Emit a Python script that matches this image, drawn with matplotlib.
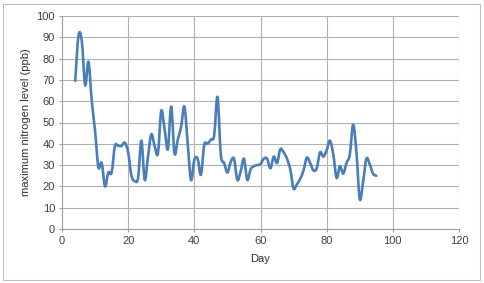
import matplotlib
matplotlib.use("Agg")
import matplotlib.pyplot as plt
from matplotlib.path import Path
from matplotlib.patches import PathPatch, Rectangle
import numpy as np

plt.rcParams['font.family'] = ['Liberation Sans', 'DejaVu Sans']

# data
days = list(range(4, 96))
nitrogen = [69.5, 91, 88, 67.5, 78.5, 60, 46, 29, 31, 20, 26.5, 26.5, 39, 39, 39, 40.5,
            36, 25, 22.5, 24, 41.5, 23, 34, 44.5, 39, 35.5, 55.5, 47, 37.5, 57.5,
            35.5, 42, 48, 57.5, 40, 23, 32.5, 33, 25.5, 39.5, 40, 42, 44, 62, 35,
            31, 26.5, 31.5, 33, 23, 27, 33, 23, 28, 29.5, 30, 30.5, 33, 33, 28.5,
            34, 31, 37.5, 36, 33, 28, 19, 21, 23.5, 27.5, 33.5, 31, 27.5, 28.5,
            36, 34, 37, 41.5, 35, 24, 29.5, 26, 31, 35, 49, 36, 14, 22, 33, 30.5,
            26, 25]

x_ticks = [0, 20, 40, 60, 80, 100, 120]
y_ticks = [0, 10, 20, 30, 40, 50, 60, 70, 80, 90, 100]


def smooth_path(xs, ys, t=1 / 6):
    # bezier segments through the points, like a spreadsheet "smoothed line"
    pts = np.column_stack([xs, ys]).astype(float)
    verts = [pts[0]]
    codes = [Path.MOVETO]
    n = len(pts)
    for i in range(n - 1):
        p0 = pts[i - 1] if i > 0 else pts[i]
        p1 = pts[i]
        p2 = pts[i + 1]
        p3 = pts[i + 2] if i + 2 < n else pts[i + 1]
        c1 = p1 + (p2 - p0) * t
        c2 = p2 - (p3 - p1) * t
        verts += [c1, c2, p2]
        codes += [Path.CURVE4] * 3
    return Path(verts, codes)


fig = plt.figure(figsize=(4.84, 2.83), dpi=100)
ax = fig.add_axes([62 / 484, 1 - 229 / 283, (459 - 62) / 484, (229 - 16) / 283])

ax.add_patch(PathPatch(smooth_path(days, nitrogen), facecolor='none',
                       edgecolor='#4A7EBB', lw=1.9, capstyle='round',
                       joinstyle='round', zorder=3))

ax.set_xlim(0, 120)
ax.set_ylim(0, 100)
ax.set_xticks(x_ticks)
ax.set_yticks(y_ticks)
ax.grid(True, color='#B0B0B0', lw=0.8)
ax.set_axisbelow(True)
for s in ['top', 'right']:
    ax.spines[s].set_visible(False)
for s in ['left', 'bottom']:
    ax.spines[s].set_color('#A0A0A0')
    ax.spines[s].set_linewidth(0.8)
ax.tick_params(labelsize=8, colors='#404040', length=2, width=0.8,
               color='#A0A0A0', direction='out', pad=3)
ax.set_xlabel('Day', fontsize=8, color='#303030', labelpad=6)
ax.set_ylabel('maximum nitrogen level (ppb)', fontsize=8, color='#303030', labelpad=4)

# chart border
fig.patches.append(Rectangle((3 / 484, 3 / 283), 477 / 484, 276 / 283,
                             transform=fig.transFigure, fill=False,
                             edgecolor='#BFBFBF', lw=0.8))

fig.savefig('out.png', dpi=100)
